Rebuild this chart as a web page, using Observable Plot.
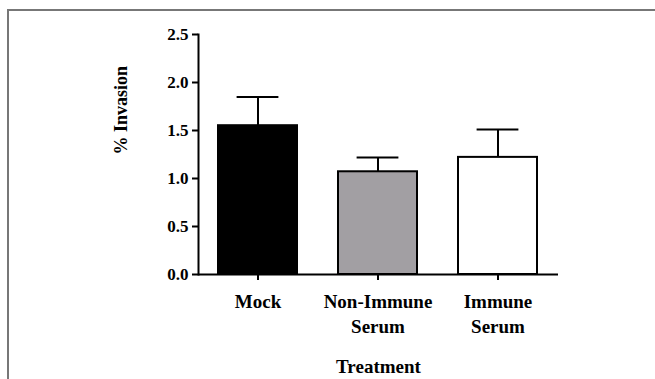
<!DOCTYPE html>
<html>
<head>
<meta charset="utf-8">
<script src="https://cdn.jsdelivr.net/npm/d3@7"></script>
<script src="https://cdn.jsdelivr.net/npm/@observablehq/plot@0.6"></script>
<style>
  html, body { margin: 0; padding: 0; background: #fff; overflow: hidden; }
  #wrap { position: relative; width: 655px; height: 379px; }
  #border { position: absolute; left: 7px; top: 9px; width: 660px; height: 380px;
            border-top: 2px solid #777; border-left: 2px solid #777; pointer-events: none; }
  #chart { position: absolute; left: 0; top: 0; }
</style>
</head>
<body>
<div id="wrap"><div id="chart"></div><div id="border"></div></div>
<script>
const categories = ["Mock", "Non-Immune\nSerum", "Immune\nSerum"];
const means = [1.55, 1.07, 1.22];
const errors = [0.30, 0.15, 0.29];
const yTicks = [0, 0.5, 1.0, 1.5, 2.0, 2.5];
const xTitle = "Treatment";
const yTitle = "% Invasion";

const data = categories.map((c, i) => ({cat: c, val: means[i], err: errors[i]}));
const font = "Liberation Serif";

const chart = Plot.plot({
  width: 655,
  height: 379,
  marginLeft: 198,
  marginRight: 97,
  marginTop: 34,
  marginBottom: 105,
  x: {domain: categories, paddingInner: 0.34, paddingOuter: 0.17, label: null},
  y: {domain: [0, 2.5], label: null},
  color: {domain: categories, range: ["#000000", "#a29fa3", "#ffffff"]},
  marks: [
    Plot.ruleX(data, {x: "cat", y1: "val", y2: d => d.val + d.err, stroke: "#000", strokeWidth: 2}),
    Plot.tickY(data, {x: "cat", y: d => d.val + d.err, stroke: "#000", strokeWidth: 2, insetLeft: 18.6, insetRight: 18.6}),
    Plot.barY(data, {x: "cat", y: "val", fill: "cat", stroke: "#000", strokeWidth: 2}),
    Plot.axisY({ticks: yTicks, tickFormat: d3.format(".1f"), tickSize: 6, tickPadding: 4, strokeWidth: 2, label: null,
                fontSize: 17, fontFamily: font, fontWeight: "bold", fill: "#000"}),
    Plot.axisX({tickSize: 6, tickPadding: 9, strokeWidth: 2, label: null,
                fontSize: 19, fontFamily: font, fontWeight: "bold", lineHeight: 1.35, fill: "#000"}),
    Plot.frame({anchor: "left", stroke: "#000", strokeWidth: 2}),
    Plot.ruleY([0], {stroke: "#000", strokeWidth: 2}),
    Plot.text([xTitle], {frameAnchor: "bottom", dy: 98, fontSize: 19, fontFamily: font, fontWeight: "bold", fill: "#000"}),
    Plot.text([yTitle], {frameAnchor: "left", dx: -77, rotate: -90, fontSize: 18, fontFamily: font, fontWeight: "bold", fill: "#000"})
  ]
});
document.getElementById("chart").appendChild(chart);
</script>
</body>
</html>
